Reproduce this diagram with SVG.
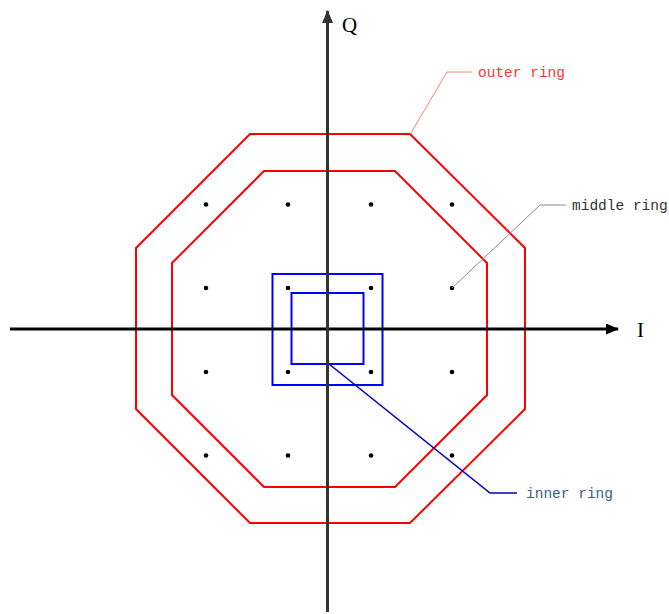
<svg xmlns="http://www.w3.org/2000/svg" width="669" height="614" viewBox="0 0 669 614">
<style>
.ring-r{fill:none;stroke:#ff0000;stroke-width:2}
.ring-b{fill:none;stroke:#0000ff;stroke-width:2}
.dot{fill:#000}
.lbl{font-family:"Liberation Mono","DejaVu Sans Mono",monospace;font-size:14.5px}
.ax{font-family:"Liberation Serif","DejaVu Serif",serif;font-size:21px;fill:#000}
</style>
<defs>
<marker id="ahQ" markerWidth="13" markerHeight="11" refX="12" refY="5.5" orient="auto" markerUnits="userSpaceOnUse" viewBox="0 0 13 11">
<path d="M0,0 L13,5.5 L0,11 Z" fill="#333"/>
</marker>
<marker id="ahI" markerWidth="13" markerHeight="11" refX="12" refY="5.5" orient="auto" markerUnits="userSpaceOnUse" viewBox="0 0 13 11">
<path d="M0,0 L13,5.5 L0,11 Z" fill="#000"/>
</marker>
</defs>
<g id="outer-ring"><polygon class="ring-r" points="250,134 410,134 525,248 525,409 410,523 250,523 136,409 136,248"/></g>
<g id="middle-ring"><polygon class="ring-r" points="264,171 395,171 487,263 487,395 395,487 264,487 172,395 172,263"/></g>
<g id="inner-ring-outer"><rect class="ring-b" x="272.5" y="274" width="110" height="111"/></g>
<g id="inner-ring-inner"><rect class="ring-b" x="291.5" y="293" width="72" height="71"/></g>
<g id="points">
<circle class="dot" cx="206" cy="204.5" r="2.3"/><circle class="dot" cx="288" cy="204.5" r="2.3"/><circle class="dot" cx="371" cy="204.5" r="2.3"/><circle class="dot" cx="452" cy="204.5" r="2.3"/>
<circle class="dot" cx="206" cy="288" r="2.3"/><circle class="dot" cx="288" cy="288" r="2.3"/><circle class="dot" cx="371" cy="288" r="2.3"/><circle class="dot" cx="452" cy="288" r="2.3"/>
<circle class="dot" cx="206" cy="372" r="2.3"/><circle class="dot" cx="288" cy="372" r="2.3"/><circle class="dot" cx="371" cy="372" r="2.3"/><circle class="dot" cx="452" cy="372" r="2.3"/>
<circle class="dot" cx="206" cy="455.5" r="2.3"/><circle class="dot" cx="288" cy="455.5" r="2.3"/><circle class="dot" cx="371" cy="455.5" r="2.3"/><circle class="dot" cx="452" cy="455.5" r="2.3"/>
</g>
<g id="connectors">
<line x1="10" y1="329" x2="618" y2="329" stroke="#000" stroke-width="3" marker-end="url(#ahI)"/>
<line x1="327.5" y1="612" x2="327.5" y2="11" stroke="#333" stroke-width="3" marker-end="url(#ahQ)"/>
<polyline points="411,133 447,72 472,72" fill="none" stroke="#ff8080" stroke-width="1"/>
<polyline points="452,288 540,205 566,205" fill="none" stroke="#888" stroke-width="1"/>
<polyline points="329,364 490,493 517,493" fill="none" stroke="#0000c0" stroke-width="1.6"/>
</g>
<g id="labels">
<text class="ax" x="342" y="32">Q</text>
<text class="ax" x="637" y="337">I</text>
<text class="lbl" x="478" y="77" fill="#ff3333">outer ring</text>
<text class="lbl" x="572" y="210" fill="#333">middle ring</text>
<text class="lbl" x="526" y="498" fill="#3a5a9a">inner ring</text>
</g>
</svg>
